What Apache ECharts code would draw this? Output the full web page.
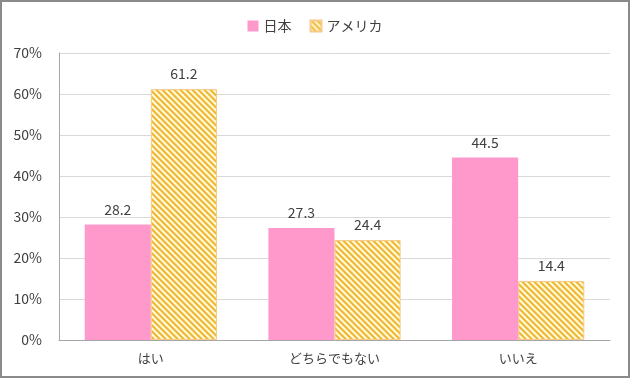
<!DOCTYPE html>
<html><head><meta charset="utf-8">
<script src="https://cdn.jsdelivr.net/npm/echarts@6/dist/echarts.min.js"></script>
<style>
html,body{margin:0;padding:0;background:#fff;}
#wrap{width:630px;height:378px;box-sizing:border-box;border:2px solid #8a8a8a;position:relative;}
#c{position:absolute;left:-2px;top:-2px;width:630px;height:378px;}
</style></head>
<body><div id="wrap"><div id="c"></div></div>
<script>
const categories = ['はい', 'どちらでもない', 'いいえ'];
const seriesNames = ['日本', 'アメリカ'];
const japan = [28.2, 27.3, 44.5];
const usa = [61.2, 24.4, 14.4];
const yTicks = [0, 10, 20, 30, 40, 50, 60, 70];

function hatch() {
  const s = 6;
  const cv = document.createElement('canvas');
  cv.width = s; cv.height = s;
  const ctx = cv.getContext('2d');
  const img = ctx.createImageData(s, s);
  for (let y = 0; y < s; y++) for (let x = 0; x < s; x++) {
    const k = ((x - y) % s + s) % s;
    const i = (y * s + x) * 4;
    let c;
    if (k < 2) c = [240, 180, 55];
    else if (k === 2) c = [248, 214, 120];
    else if (k === 5) c = [250, 225, 150];
    else c = [255, 250, 215];
    img.data[i] = c[0]; img.data[i+1] = c[1]; img.data[i+2] = c[2]; img.data[i+3] = 255;
  }
  ctx.putImageData(img, 0, 0);
  return cv;
}
const pat = { image: hatch(), repeat: 'repeat' };
const font = '"Noto Sans CJK JP", "Noto Sans", sans-serif';
const chart = echarts.init(document.getElementById('c'), null, { renderer: 'canvas' });
chart.setOption({
  animation: false,
  textStyle: { fontFamily: font },
  legend: {
    top: 14, left: 'center', itemWidth: 11, itemHeight: 11, itemGap: 18,
    icon: 'rect',
    textStyle: { fontSize: 14, color: '#404040', fontFamily: font },
    data: seriesNames
  },
  grid: { left: 59, right: 20, top: 53, bottom: 38 },
  xAxis: {
    type: 'category', data: categories,
    axisLine: { lineStyle: { color: '#a6a6a6' } },
    axisTick: { show: false },
    axisLabel: { color: '#404040', fontSize: 13, margin: 12, fontFamily: font }
  },
  yAxis: {
    type: 'value', min: yTicks[0], max: yTicks[yTicks.length - 1], interval: 10,
    axisLine: { show: true, lineStyle: { color: '#a6a6a6' } },
    axisTick: { show: false },
    splitLine: { lineStyle: { color: '#d9d9d9' } },
    axisLabel: { formatter: '{value}%', color: '#404040', fontSize: 14, margin: 17, fontFamily: font }
  },
  series: [
    {
      name: seriesNames[0], type: 'bar', data: japan, barGap: '0%', barCategoryGap: '28%',
      itemStyle: { color: '#ff99cc' },
      label: { show: true, position: 'top', distance: 8, color: '#404040', fontSize: 14, formatter: p => p.value.toFixed(1) }
    },
    {
      name: seriesNames[1], type: 'bar', data: usa, barGap: '0%', barCategoryGap: '28%',
      itemStyle: { color: pat, borderColor: '#f8c98a', borderWidth: 1 },
      label: { show: true, position: 'top', distance: 8, color: '#404040', fontSize: 14, formatter: p => p.value.toFixed(1) }
    }
  ]
});
</script></body></html>
